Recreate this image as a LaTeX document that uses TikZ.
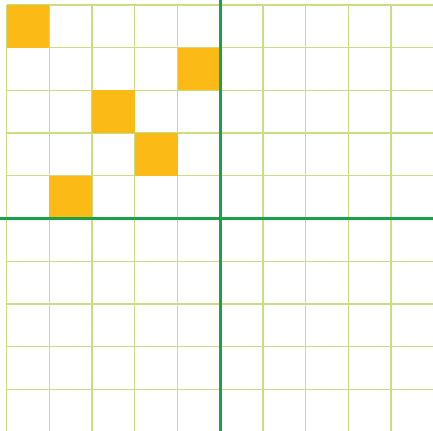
\documentclass[tikz,border=0pt]{standalone}
\usepackage{tikz}
\usetikzlibrary{calc}

\definecolor{gridgreen}{RGB}{200,222,130}
\definecolor{axisgreen}{RGB}{28,160,72}
\definecolor{cellorange}{RGB}{251,186,22}

\begin{document}
\begin{tikzpicture}[scale=1]

                % Picture frame (margins of the reference)
                \useasboundingbox (-5.157,-4.953) rectangle (4.983,5.117);
                \clip (-5.157,-4.953) rectangle (4.983,5.117);

                % Light grid
                \draw[gridgreen, line width=0.9pt] (-5,-5) grid (5,5);

                % Shade selected cells
                \fill[cellorange] (-5,4) rectangle (-4,5); % (1,1)
                \fill[cellorange] (-1,3) rectangle (0,4);  % (2,5)
                \fill[cellorange] (-3,2) rectangle (-2,3); % (3,3)
                \fill[cellorange] (-2,1) rectangle (-1,2); % (4,4)
                \fill[cellorange] (-4,0) rectangle (-3,1); % (5,2)

                % Axes
                \draw[axisgreen, line width=2pt] (-5.2,0) -- (5.2,0);
                \draw[axisgreen, line width=2pt] (0,-5.2) -- (0,5.2);
            \end{tikzpicture}
\end{document}
